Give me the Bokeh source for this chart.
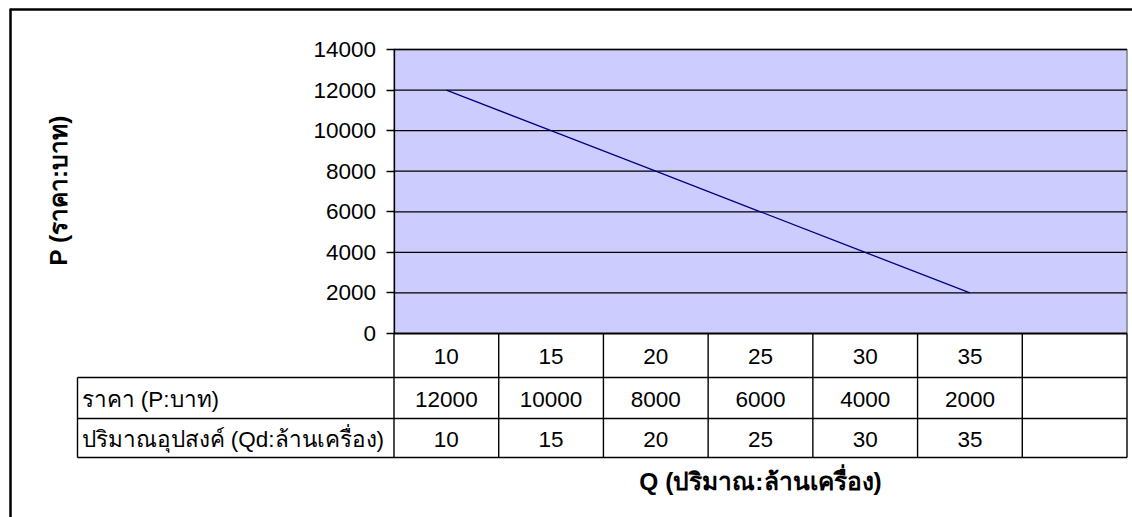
from bokeh.plotting import figure
from bokeh.models import LinearAxis, FixedTicker, Range1d
from bokeh.core.properties import value
from bokeh.embed import file_html
from bokeh.resources import INLINE

# ---- data ----
quantity = [10, 15, 20, 25, 30, 35]
price = [12000, 10000, 8000, 6000, 4000, 2000]
categories = ["10", "15", "20", "25", "30", "35", ""]
y_ticks = [0, 2000, 4000, 6000, 8000, 10000, 12000, 14000]
row_labels = ["ราคา (P:บาท)", "ปริมาณอุปสงค์ (Qd:ล้านเครื่อง)"]
y_title = "P (ราคา:บาท)"
x_title = "Q (ปริมาณ:ล้านเครื่อง)"

# ---- layout (page pixels) ----
FIG_X0, FIG_Y0 = 0, 0
W, H = 1132, 517
PA_L, PA_R, PA_T, PA_B = 393.5, 1126.5, 49.0, 333.0
NCOL = len(categories)
YMAX = 14000
kx = (PA_R - PA_L) / NCOL
ky = (PA_B - PA_T) / YMAX

def X(px):
    return (px - PA_L) / kx

def Y(py):
    return (PA_B - py) / ky

FONT = "Liberation Sans"
FS = "22.5px"
TFS = "24.5px"

p = figure(width=W, height=H, output_backend="svg", toolbar_location=None,
           x_axis_location=None, y_axis_location=None,
           x_range=Range1d(X(FIG_X0), X(FIG_X0 + W)),
           y_range=Range1d(Y(FIG_Y0 + H), Y(FIG_Y0)),
           min_border=0, min_border_left=0, min_border_right=0,
           min_border_top=0, min_border_bottom=0)
p.outline_line_color = None
p.xgrid.visible = False
p.ygrid.visible = False
p.background_fill_color = "white"
p.border_fill_color = "white"

# outer chart frame (left & top visible)
p.segment(x0=[X(10), X(9)], y0=[Y(530), Y(9)], x1=[X(10), X(1140)], y1=[Y(9), Y(9)],
          line_color="black", line_width=2.5)

# plot area
p.quad(left=[0], right=[NCOL], bottom=[0], top=[YMAX],
       fill_color="#CCCCFF", line_color="#808080", line_width=1.5)

# gridlines
p.segment(x0=[0] * len(y_ticks), x1=[NCOL] * len(y_ticks), y0=y_ticks, y1=y_ticks,
          line_color="black", line_width=1.3)

# data line
xs = [i + 0.5 for i in range(len(price))]
p.line(xs, price, line_color="#000080", line_width=1.3)

# y axis
ax = LinearAxis(fixed_location=0, bounds=(0, YMAX), ticker=FixedTicker(ticks=y_ticks))
ax.axis_line_color = "black"
ax.axis_line_width = 1.3
ax.major_tick_out = 8
ax.major_tick_in = 0
ax.minor_tick_out = 0
ax.minor_tick_in = 0
ax.major_tick_line_width = 1.3
ax.major_label_standoff = 10
ax.major_label_text_font = FONT
ax.major_label_text_font_size = FS
ax.major_label_text_color = "black"
p.add_layout(ax, "left")

# data table
rows_y = [333, 377, 418, 457]
lab_left = X(77)
lw = 1.4
# horizontal lines
p.segment(x0=[0, lab_left, lab_left, lab_left], x1=[NCOL] * 4,
          y0=[Y(v) for v in rows_y], y1=[Y(v) for v in rows_y],
          line_color="black", line_width=lw)
# vertical lines (category columns)
p.segment(x0=list(range(NCOL + 1)), x1=list(range(NCOL + 1)),
          y0=[Y(rows_y[0])] * (NCOL + 1), y1=[Y(rows_y[3])] * (NCOL + 1),
          line_color="black", line_width=lw)
# label column left border
p.segment(x0=[lab_left], x1=[lab_left], y0=[Y(rows_y[1])], y1=[Y(rows_y[3])],
          line_color="black", line_width=lw)

cx = [i + 0.5 for i in range(NCOL)]
def mid(a, b):
    return Y((rows_y[a] + rows_y[b]) / 2 + 1)

p.text(x=cx, y=[mid(0, 1)] * NCOL, text=categories, text_font=value(FONT),
       text_font_size=FS, text_align="center", text_baseline="middle", text_color="black")
p.text(x=cx[:len(price)], y=[mid(1, 2)] * len(price), text=[str(v) for v in price],
       text_font=value(FONT), text_font_size=FS, text_align="center",
       text_baseline="middle", text_color="black")
p.text(x=cx[:len(quantity)], y=[mid(2, 3)] * len(quantity), text=[str(v) for v in quantity],
       text_font=value(FONT), text_font_size=FS, text_align="center",
       text_baseline="middle", text_color="black")
p.text(x=[X(81)] * 2, y=[mid(1, 2), mid(2, 3)], text=row_labels, text_font=value(FONT),
       text_font_size=FS, text_align="left", text_baseline="middle", text_color="black")

# axis titles
p.text(x=[X(58)], y=[Y(190)], text=[y_title], angle=1.5708, text_font=value(FONT),
       text_font_size=TFS, text_font_style="bold", text_align="center",
       text_baseline="middle", text_color="black")
p.text(x=[X(760)], y=[Y(481)], text=[x_title], text_font=value(FONT),
       text_font_size=TFS, text_font_style="bold", text_align="center",
       text_baseline="middle", text_color="black")

open("out.html", "w").write(file_html(p, INLINE))
